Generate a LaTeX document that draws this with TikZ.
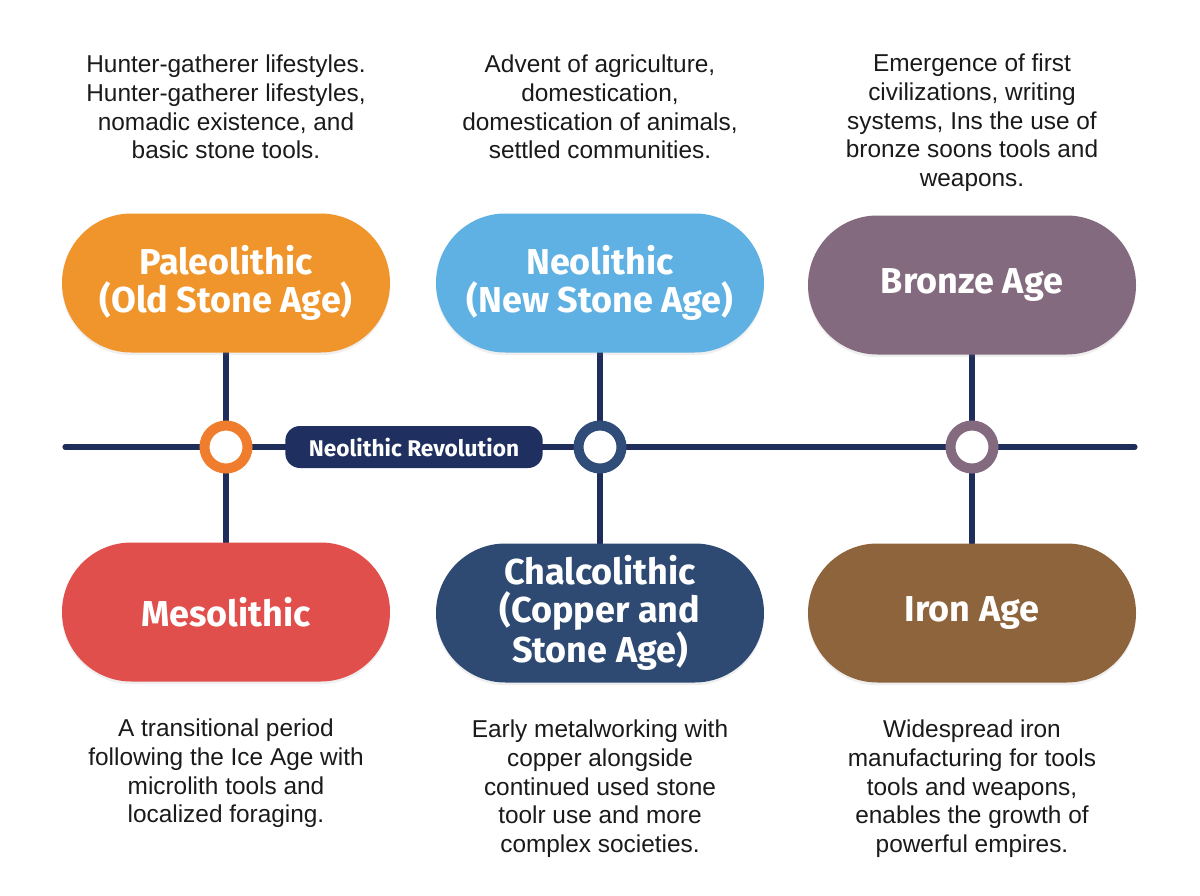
\documentclass[tikz,border=0pt]{standalone}
\usepackage{fontspec}
\setmainfont{Liberation Sans}
\newfontfamily\pillfont{Fira Sans}
\usetikzlibrary{backgrounds,shadows}
\definecolor{linec}{HTML}{1F2D5B}
\definecolor{orangep}{HTML}{F0952B}
\definecolor{oranger}{HTML}{F07D2E}
\definecolor{bluep}{HTML}{5EB1E2}
\definecolor{navyr}{HTML}{2F4D78}
\definecolor{mauvep}{HTML}{846A7E}
\definecolor{redp}{HTML}{E14F4C}
\definecolor{navyp}{HTML}{2E4A72}
\definecolor{brownp}{HTML}{8E643C}
\definecolor{labc}{HTML}{1F3060}
\definecolor{txt}{HTML}{1A1A1A}
\tikzset{
  pill/.style={rounded corners=52pt, minimum width=246pt, minimum height=104.25pt,
    inner sep=0pt, align=center, text=white,
    font=\pillfont\bfseries\fontsize{27pt}{28pt}\selectfont,
    drop shadow={opacity=0.12, shadow xshift=0pt, shadow yshift=-2pt}},
  ring/.style={circle, draw, line width=7.5pt, fill=white, minimum size=32.25pt, inner sep=0pt},
  desc/.style={align=center, text=txt, font=\fontsize{18.3pt}{21.5pt}\selectfont, inner sep=0pt},
  conn/.style={draw=linec, line width=3.8pt, line cap=round},
  lab/.style={fill=labc, text=white, rounded corners=11pt, minimum width=193pt, minimum height=31.5pt,
    inner sep=0pt, font=\pillfont\bfseries\fontsize{17pt}{19pt}\selectfont}
}
\begin{document}
\begin{tikzpicture}[x=0.75pt,y=-0.75pt]
\useasboundingbox (0,0) rectangle (1200,896);
% pills
\node[pill, fill=orangep] (p1) at (226,283) {Paleolithic\\(Old Stone Age)};
\node[pill, fill=bluep] (p2) at (600,283) {Neolithic\\(New Stone Age)};
\node[pill, fill=mauvep] (p3) at (972,285) {Bronze Age};
\node[pill, fill=redp] (p4) at (226,612) {Mesolithic};
\node[pill, fill=navyp] (p5) at (600,613) {Chalcolithic\\(Copper and\\Stone Age)};
\node[pill, fill=brownp] (p6) at (972,613) {Iron Age};
% label and rings
\node[lab] (lab) at (414,447) {Neolithic Revolution};
\node[ring, draw=oranger] (c1) at (226,447) {};
\node[ring, draw=navyr] (c2) at (600,447) {};
\node[ring, draw=mauvep] (c3) at (972,447) {};
\coordinate (L) at (65,447);
\coordinate (R) at (1135,447);
\begin{pgfonlayer}{background}
\fill[white] (0,0) rectangle (1200,896);
\draw[conn] (L) -- (R);
\draw[conn] (p1.south) -- (c1.center) -- (p4.north);
\draw[conn] (p2.south) -- (c2.center) -- (p5.north);
\draw[conn] (p3.south) -- (c3.center) -- (p6.north);
\end{pgfonlayer}
% descriptions
\node[desc, anchor=north] (d1) at (226,55) {Hunter-gatherer lifestyles.\\Hunter-gatherer lifestyles,\\nomadic existence, and\\basic stone tools.};
\node[desc, anchor=north] (d2) at (600,55) {Advent of agriculture,\\domestication,\\domestication of animals,\\settled communities.};
\node[desc, anchor=north] (d3) at (972,54) {Emergence of first\\civilizations, writing\\systems, Ins the use of\\bronze soons tools and\\weapons.};
\node[desc, anchor=north] (d4) at (226,719) {A transitional period\\following the Ice Age with\\microlith tools and\\localized foraging.};
\node[desc, anchor=north] (d5) at (600,720) {Early metalworking with\\copper alongside\\continued used stone\\toolr use and more\\complex societies.};
\node[desc, anchor=north] (d6) at (972,720) {Widespread iron\\manufacturing for tools\\tools and weapons,\\enables the growth of\\powerful empires.};
\end{tikzpicture}
\end{document}
